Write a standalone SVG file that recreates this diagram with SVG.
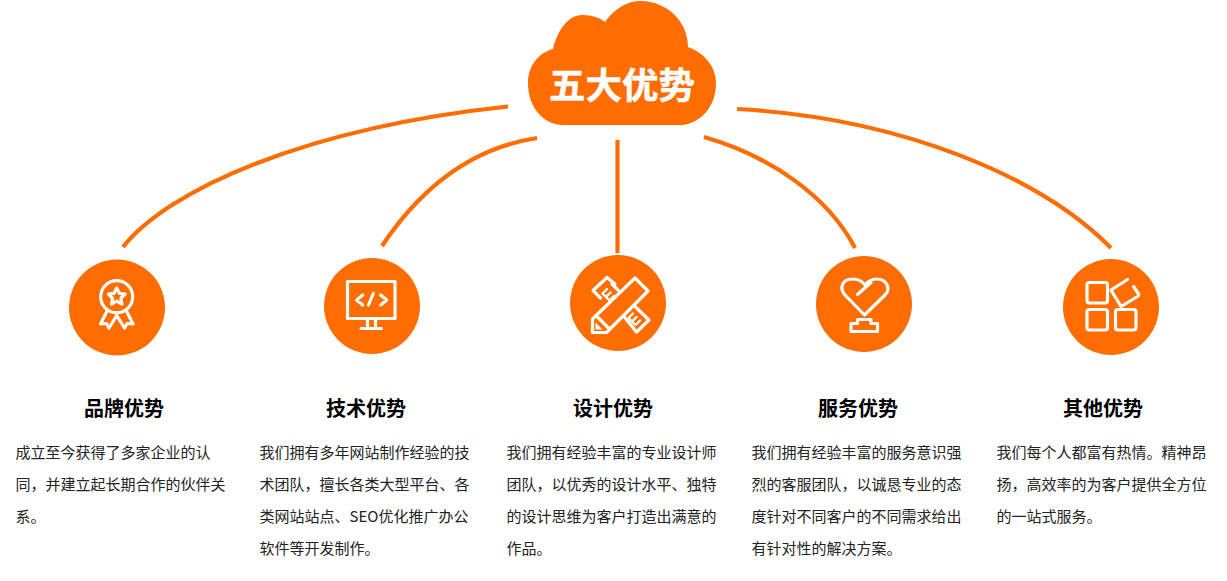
<svg xmlns="http://www.w3.org/2000/svg" width="1227" height="581" viewBox="0 0 1227 581">
<style>
text{font-family:"Noto Sans CJK SC","Liberation Sans",sans-serif}
.h{font-size:20px;font-weight:700;fill:#000;text-anchor:middle}
.b{font-size:15px;fill:#222}
.c{fill:none;stroke:#ff6c00;stroke-width:4.200}
.d{fill:#ff6c00}
.i{fill:none;stroke:#fff;stroke-width:3.200;stroke-linejoin:round;stroke-linecap:round}
.t{stroke-width:2.400}
</style>
<rect width="1227" height="581" fill="#fff"/>
<g id="connectors">
<path class="c" d="M123,247C168,190 305,128 508,106.500"/>
<path class="c" d="M382,246C422,186 472,148 537,138"/>
<path class="c" d="M617.500,140V253"/>
<path class="c" d="M704,137C770,156 828,196 855,248"/>
<path class="c" d="M737,109C900,118 1040,176 1111,248"/>
</g>
<g id="cloud">
<path class="d" d="M562,125C542,124 528,106 528,83C528,66 538,53 553,49C558,28 570,14 583,15C592,15 600,18 605,22C615,8 628,1 640,1C668,1 688,22 688,47C704,53 716,66 716,83C716,106 702,122 683,125Z"/>
<text x="622" y="99" font-size="36.500" font-weight="700" fill="#fff" stroke="#fff" stroke-width="0.500" text-anchor="middle">五大优势</text>
</g>
<g id="node-brand">
<circle class="d" cx="117" cy="307.500" r="48"/>
<circle class="i" cx="116.700" cy="296.700" r="16"/>
<path class="i" d="M116.700,288L119.300,293.300L125,294.100L120.900,298.200L121.900,304L116.700,301.200L111.500,304L112.500,298.200L108.400,294.100L114.100,293.300Z"/>
<path class="i" d="M106.500,312L100.500,324L106.500,323.500L109,328L116.700,315.500L124.500,328L127,323.500L133,324L127,312"/>
<text class="h" x="124" y="416">品牌优势</text>
<text class="b" x="15.500" y="458">成立至今获得了多家企业的认</text>
<text class="b" x="15.500" y="490">同，并建立起长期合作的伙伴关</text>
<text class="b" x="15.500" y="522">系。</text>
</g>
<g id="node-tech">
<circle class="d" cx="372" cy="306" r="48"/>
<rect class="i" x="347.500" y="281.500" width="47.500" height="37"/>
<path class="i" d="M362.700,295L356.700,300L362.700,305M373.300,293.500L368.500,305M380.700,295L386.700,300L380.700,305M367.500,318.500V328M375.500,318.500V328M361,328.500H381.500"/>
<text class="h" x="366" y="416">技术优势</text>
<text class="b" x="259.500" y="458">我们拥有多年网站制作经验的技</text>
<text class="b" x="259.500" y="490">术团队，擅长各类大型平台、各</text>
<text class="b" x="259.500" y="522">类网站站点、SEO优化推广办公</text>
<text class="b" x="259.500" y="554">软件等开发制作。</text>
</g>
<g id="node-design">
<circle class="d" cx="618" cy="303" r="48"/>
<path class="i" d="M592.500,332.500V319L635,278L648,291L606.500,332.500ZM596.500,316L609.500,329"/>
<path d="M595.500,322.500V329.500H602.500Z" fill="#fff"/>
<path class="i" d="M615,284L607,277.500L593,290.500L600.500,298M618,290L612,284"/>
<path class="i t" d="M602.500,293.500L609.500,300.500M602.500,293.500L607,289M606,297L610.500,292.500M609.500,300.500L614,296"/>
<path class="i" d="M623.500,316L636.500,332L649,320L635.500,307"/>
<path class="i t" d="M628.500,318L635.500,325M628.500,318L633,313.500M632,321.500L636.500,317M635.500,325L640,320.500"/>
<text class="h" x="613" y="416">设计优势</text>
<text class="b" x="506.500" y="458">我们拥有经验丰富的专业设计师</text>
<text class="b" x="506.500" y="490">团队，以优秀的设计水平、独特</text>
<text class="b" x="506.500" y="522">的设计思维为客户打造出满意的</text>
<text class="b" x="506.500" y="554">作品。</text>
</g>
<g id="node-service">
<circle class="d" cx="864" cy="304" r="48"/>
<path class="i" d="M864.500,315L845,295C839,288 842,279 853,279C858,279 862,281 865,285C868,281 872,279 877,279C887,279 891,289 885,295ZM857.500,294.500L871,282.500"/>
<path class="i" d="M851,331.500V323.500H857.500V319.500H871V323.500H877.500V331.500Z"/>
<text class="h" x="858" y="416">服务优势</text>
<text class="b" x="751.500" y="458">我们拥有经验丰富的服务意识强</text>
<text class="b" x="751.500" y="490">烈的客服团队，以诚恳专业的态</text>
<text class="b" x="751.500" y="522">度针对不同客户的不同需求给出</text>
<text class="b" x="751.500" y="554">有针对性的解决方案。</text>
</g>
<g id="node-other">
<circle class="d" cx="1111" cy="307" r="48"/>
<rect class="i" x="1087" y="282.500" width="20.500" height="20.500" rx="2.500"/>
<rect class="i" x="1087" y="309.500" width="20.500" height="20.500" rx="2.500"/>
<rect class="i" x="1115.500" y="309.500" width="20.500" height="20.500" rx="2.500"/>
<path class="i" d="M1127.500,279.500L1111,290L1121,306.500L1137.500,296.500Q1139.500,295 1138,293L1133.500,286.500"/>
<text class="h" x="1103" y="416">其他优势</text>
<text class="b" x="996.500" y="458">我们每个人都富有热情。精神昂</text>
<text class="b" x="996.500" y="490">扬，高效率的为客户提供全方位</text>
<text class="b" x="996.500" y="522">的一站式服务。</text>
</g>
</svg>
